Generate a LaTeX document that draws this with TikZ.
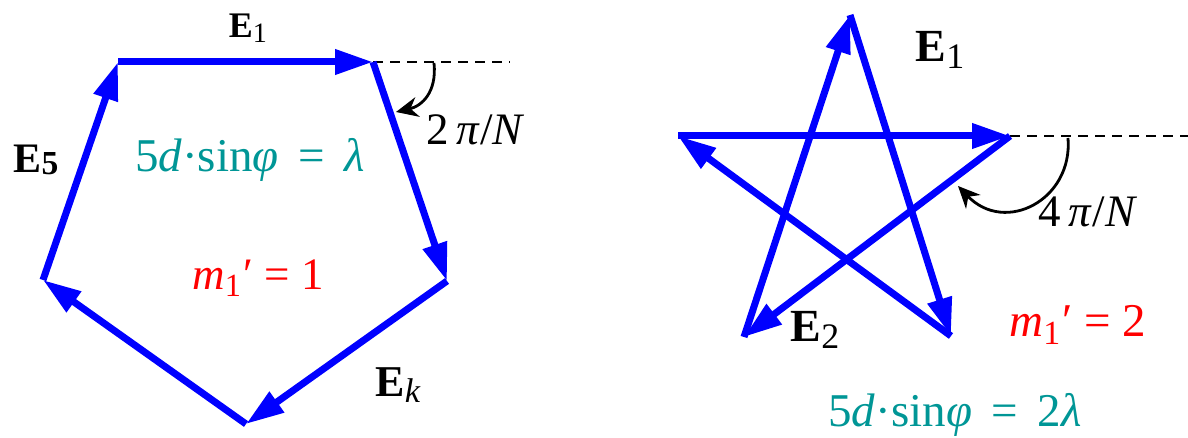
\documentclass[tikz,border=0pt]{standalone}
\usepackage{graphicx}
\usepackage{fontspec}
\setmainfont{Liberation Serif}
\usetikzlibrary{arrows.meta}
\definecolor{eqteal}{RGB}{0,150,150}
\newcommand{\Evec}[1]{\textbf{E}\raisebox{-0.3ex}{\scalebox{0.78}{#1}}}
\newcommand{\mprime}{\textit{m}\raisebox{-0.35ex}{\scalebox{0.72}{1}}\kern0.05em′}
\tikzset{
  phasor/.style={line width=3.5pt, blue, -{Triangle[length=19pt,width=12pt]}},
  refline/.style={line width=1pt, dash pattern=on 5pt off 3.5pt},
  anglearrow/.style={line width=1.4pt, -{Stealth[length=11pt,width=10pt]}},
  lbl/.style={inner sep=0pt, font=\fontsize{22}{26}\selectfont},
  condition/.style={lbl, text=eqteal, font=\fontsize{23.5}{28}\selectfont},
  order/.style={lbl, text=red}
}

\begin{document}
\begin{tikzpicture}[x=0.5pt, y=-0.5pt]
  \useasboundingbox (0,0) rectangle (1188,438);

  \coordinate (A) at (118,62);
  \coordinate (B) at (373,62);
  \coordinate (C) at (447,281);
  \coordinate (D) at (246,424);
  \coordinate (F) at (43,280);
  \coordinate (Bend) at (510,62);
  \coordinate (a1s) at (434,63);
  \coordinate (a1e) at (396,112);

  \draw[refline] (B) -- (Bend);
  \draw[phasor] (A) -- (B);
  \draw[phasor] (B) -- (C);
  \draw[phasor] (C) -- (D);
  \draw[phasor] (D) -- (F);
  \draw[phasor] (F) -- (A);
  \draw[anglearrow] (a1s) .. controls (437,92) and (422,106) .. (a1e);

  \node[lbl, font=\fontsize{18}{22}\selectfont] (e1a) at (248,28) {\Evec{1}};
  \node[lbl, font=\fontsize{21}{25}\selectfont] (e5) at (36,160) {\textbf{E\raisebox{-0.1ex}{\scalebox{0.8}{5}}}};
  \node[lbl, font=\fontsize{22.5}{27}\selectfont] (ph1) at (476,130) {2\,\textit{π}/\textit{N}};
  \node[condition] (c1) at (250,160) {5\textit{d}·sin\textit{φ} \,=\, \textit{λ}};
  \node[order, font=\fontsize{22.5}{27}\selectfont] (m1) at (258,278) {\mprime{} = 1};
  \node[lbl] (ek) at (398,385) {\Evec{\textit{k}}};

  \coordinate (T) at (850,15);
  \coordinate (R) at (1010,136);
  \coordinate (L) at (678,136);
  \coordinate (BL) at (744,337);
  \coordinate (BR) at (951,336);
  \coordinate (Rend) at (1188,136);
  \coordinate (a2s) at (1068,138);
  \coordinate (a2e) at (958,186);

  \draw[refline] (R) -- (Rend);
  \draw[phasor] (L) -- (R);
  \draw[phasor] (R) -- (BL);
  \draw[phasor] (BL) -- (T);
  \draw[phasor] (T) -- (BR);
  \draw[phasor] (BR) -- (L);
  \draw[anglearrow] (a2s) .. controls (1073,200) and (1005,235) .. (a2e);

  \node[lbl, font=\fontsize{23}{27}\selectfont] (e1b) at (940,50) {\Evec{1}};
  \node[lbl, font=\fontsize{23}{27}\selectfont] (e2) at (815,330) {\Evec{2}};
  \node[lbl, font=\fontsize{22.5}{27}\selectfont] (ph2) at (1088,212) {4\,\textit{π}/\textit{N}};
  \node[order, font=\fontsize{23.5}{28}\selectfont] (m2) at (1078,325) {\mprime{} = 2};
  \node[condition] (c2) at (955,415) {5\textit{d}·sin\textit{φ} \,=\, 2\textit{λ}};
\end{tikzpicture}
\end{document}
